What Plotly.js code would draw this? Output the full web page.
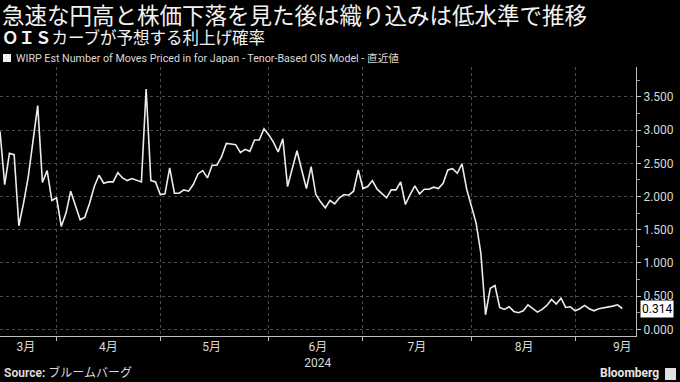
<!DOCTYPE html>
<html><head><meta charset="utf-8">
<script src="https://cdn.plot.ly/plotly-3.0.1.min.js"></script>
<style>html,body{margin:0;padding:0;background:#000;}#chart{width:680px;height:382px;}</style>
</head><body><div id="chart"></div>
<script>
// ---- data ----
const startDate = '2024-03-14';   // first trading day shown (weekdays only)
const values = [
  2.98, 2.18, 2.65, 2.63, 1.56, 1.90, 2.30, 2.85, 3.37, 2.21,
  2.39, 1.94, 1.98, 1.55, 1.75, 2.08, 1.86, 1.65, 1.69, 1.90,
  2.15, 2.32, 2.20, 2.22, 2.22, 2.36, 2.28, 2.24, 2.27, 2.25,
  2.22, 3.62, 2.24, 2.22, 2.03, 2.04, 2.43, 2.05, 2.05, 2.10,
  2.08, 2.18, 2.34, 2.39, 2.28, 2.47, 2.47, 2.60, 2.80, 2.79,
  2.78, 2.66, 2.71, 2.68, 2.85, 2.85, 3.02, 2.93, 2.82, 2.67,
  2.87, 2.15, 2.40, 2.69, 2.40, 2.12, 2.45, 2.03, 1.92, 1.83,
  1.94, 1.89, 1.98, 2.03, 2.02, 2.08, 2.40, 2.12, 2.15, 2.24,
  2.11, 2.05, 1.98, 2.10, 2.10, 2.22, 1.88, 2.03, 2.16, 2.04,
  2.11, 2.11, 2.14, 2.12, 2.20, 2.40, 2.42, 2.35, 2.49, 2.11,
  1.87, 1.60, 1.15, 0.22, 0.62, 0.66, 0.33, 0.30, 0.34, 0.27,
  0.25, 0.28, 0.37, 0.32, 0.26, 0.30, 0.36, 0.45, 0.38, 0.47,
  0.33, 0.34, 0.28, 0.31, 0.36, 0.31, 0.28, 0.31, 0.32, 0.33,
  0.35, 0.37, 0.314
];
const monthStarts = ['2024-04-01','2024-05-01','2024-06-03','2024-07-01','2024-08-01','2024-09-02'];
const monthLabelDates = ['2024-03-21 12:00','2024-04-16','2024-05-15 22:00','2024-06-17 10:00','2024-07-16 10:00','2024-08-16 05:00','2024-09-16'];
const monthLabels = ['3月','4月','5月','6月<br>2024','7月','8月','9月'];
const xRange = ['2024-03-14','2024-09-18 22:00'];
const lastLabel = '0.314';

const titleText = '急速な円高と株価下落を見た後は織り込みは低水準で推移';
const subtitleText = '<b>ＯＩＳ</b>カーブが予想する利上げ確率';
const legendText = 'WIRP Est Number of Moves Priced in for Japan - Tenor-Based OIS Model - 直近値';
const sourceText = '<b>Source:</b> ブルームバーグ';

// weekday dates for the series
function weekdays(start, n){
  const out=[]; const d=new Date(start+'T00:00:00Z');
  while(out.length<n){ const w=d.getUTCDay(); if(w!==0&&w!==6) out.push(d.toISOString().slice(0,10)); d.setUTCDate(d.getUTCDate()+1); }
  return out;
}
const dates = weekdays(startDate, values.length);

const plotTop=67, plotBottom=336, plotH=plotBottom-plotTop;
const py = p => (plotBottom-p)/plotH;   // pixel row -> paper y

const trace = {
  x: dates, y: values, type:'scatter', mode:'lines',
  line:{color:'#ececec', width:1.6}, hoverinfo:'skip', showlegend:false
};

const gridC = '#4a4a4a';
const txtC = '#d9d9d9';
const layout = {
  width:680, height:382,
  paper_bgcolor:'#000', plot_bgcolor:'#000',
  margin:{l:0, r:44, t:plotTop, b:382-plotBottom, pad:0},
  font:{family:'Roboto, "Noto Sans CJK JP", sans-serif', color:txtC, size:12},
  title:{text:titleText, xref:'container', yref:'container', x:0.003, xanchor:'left', y:1-16/382, yanchor:'middle',
         font:{family:'"Noto Sans CJK JP", sans-serif', size:22.5, color:'#f2f2f2'}},
  xaxis:{
    type:'date', range:xRange, rangebreaks:[{bounds:['sat','mon']}],
    tickmode:'array', tickvals:monthLabelDates, ticktext:monthLabels, ticks:'',
    tickfont:{size:12, color:txtC, family:'Roboto, "Noto Sans CJK JP", sans-serif'},
    showgrid:false, zeroline:false, showline:true, linecolor:'#bdbdbd', linewidth:1,
    minor:{tickmode:'array', tickvals:monthStarts, ticks:'outside', ticklen:4, tickcolor:'#bdbdbd',
           showgrid:true, gridcolor:gridC, griddash:'dot', gridwidth:1},
    fixedrange:true
  },
  yaxis:{
    side:'right', range:[-0.1, 3.95], dtick:0.5, tick0:0, tickformat:'.3f',
    ticks:'outside', ticklen:4, tickcolor:'#bdbdbd',
    tickfont:{size:12, color:txtC},
    showgrid:true, gridcolor:gridC, griddash:'dot', gridwidth:1,
    zeroline:false, showline:true, linecolor:'#bdbdbd', linewidth:1,
    minor:{dtick:0.25, ticks:'outside', ticklen:3, tickcolor:'#999', showgrid:false},
    fixedrange:true
  },
  shapes:[
    {type:'rect', xref:'paper', yref:'paper', x0:3/636, x1:11/636, y0:py(62), y1:py(54), fillcolor:'#f0f0f0', line:{width:0}},
    {type:'rect', xref:'paper', yref:'paper', x0:665/636, x1:676/636, y0:py(380), y1:py(368), fillcolor:'#e0e0e0', line:{width:0}}
  ],
  annotations:[
    {text:subtitleText, xref:'paper', yref:'paper', x:0, y:py(37), xanchor:'left', yanchor:'middle', showarrow:false,
     font:{family:'"Noto Sans CJK JP", sans-serif', size:16.5, color:'#f2f2f2'}},
    {text:legendText, xref:'paper', yref:'paper', x:14/636, y:py(58), xanchor:'left', yanchor:'middle', showarrow:false,
     font:{family:'Roboto, "Noto Sans CJK JP", sans-serif', size:10.7, color:txtC}},
    {text:sourceText, xref:'paper', yref:'paper', x:2/636, y:py(373), xanchor:'left', yanchor:'middle', showarrow:false,
     font:{family:'Roboto, "Noto Sans CJK JP", sans-serif', size:12, color:txtC}},
    {text:'<b>Bloomberg</b>', xref:'paper', yref:'paper', x:661/636, y:py(373), xanchor:'right', yanchor:'middle', showarrow:false,
     font:{family:'Roboto, sans-serif', size:12, color:'#e6e6e6'}},
    {text:lastLabel, xref:'paper', yref:'y', x:1, xshift:4, y:values[values.length-1], xanchor:'left', yanchor:'middle', showarrow:false,
     bgcolor:'#ffffff', font:{size:12, color:'#000', family:'Roboto, sans-serif'}, borderpad:1}
  ]
};

Plotly.newPlot('chart', [trace], layout, {displayModeBar:false, staticPlot:true});
</script>
</body></html>
